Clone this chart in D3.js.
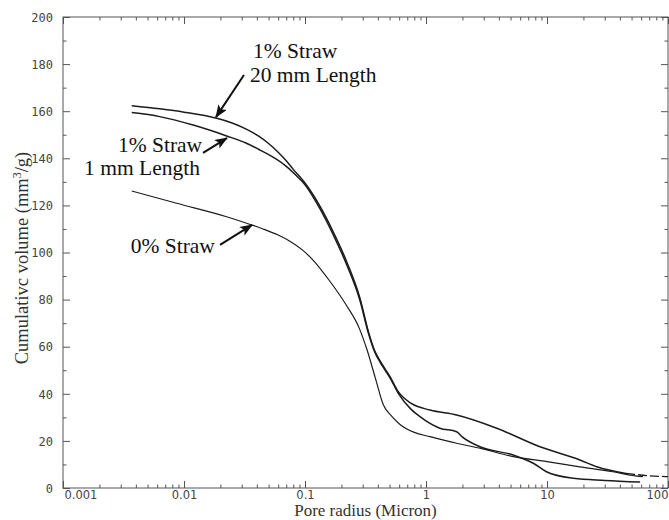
<!DOCTYPE html>
<html>
<head>
<meta charset="utf-8">
<script src="https://cdn.jsdelivr.net/npm/d3@7"></script>
<style>
  html, body { margin: 0; padding: 0; background: #fff; }
  svg { display: block; }
  .frame { fill: none; stroke: #555; stroke-width: 1; }
  .axis path { display: none; }
  .axis line { stroke: #555; stroke-width: 1; }
  .curve { fill: none; stroke: #1c1c1c; stroke-linejoin: round; }
  .note { font-family: 'Liberation Serif', serif; font-size: 21.5px; fill: #111; }
  .title { font-family: 'Liberation Serif', serif; fill: #333; }
</style>
</head>
<body>
<svg id="chart" width="669" height="520"></svg>
<script>
// pore radius (micron) vs cumulative volume (mm3/g)
const straw20X = [0.0037, 0.0063, 0.01, 0.0186, 0.025, 0.033, 0.042, 0.05, 0.06, 0.07, 0.08, 0.1, 0.13, 0.171, 0.221, 0.285, 0.334, 0.375, 0.417, 0.46, 0.504, 0.59, 0.75, 1.08, 1.79, 3.84, 8.75, 18.7, 25.8, 45, 70, 100];
const straw20Y = [162.3, 161.0, 159.6, 157.0, 155.0, 152.3, 149.2, 146.3, 142.6, 139.0, 135.3, 129.5, 120.5, 108.8, 96.1, 80.5, 66.4, 58.5, 54.0, 50.5, 47.3, 40.9, 36.0, 33.1, 31.0, 25.4, 17.5, 11.9, 9.0, 6.2, 5.2, 4.8];

const straw1X = [0.0037, 0.0063, 0.0119, 0.0225, 0.0325, 0.0425, 0.058, 0.07, 0.085, 0.1, 0.13, 0.171, 0.221, 0.285, 0.334, 0.375, 0.417, 0.46, 0.504, 0.59, 0.75, 0.891, 1.3, 1.79, 1.98, 2.79, 5.27, 7.7, 9.9, 16.6, 30, 58.8];
const straw1Y = [159.4, 157.7, 154.1, 149.5, 146.5, 143.5, 139.6, 136.6, 132.6, 128.8, 119.5, 107.6, 94.8, 79.5, 65.8, 58.0, 53.5, 50.0, 46.8, 40.2, 33.5, 30.3, 25.4, 23.9, 21.8, 17.5, 14.0, 10.5, 6.9, 4.1, 3.2, 2.5];

const straw0X = [0.0037, 0.0087, 0.0225, 0.0363, 0.045, 0.06, 0.075, 0.095, 0.115, 0.16, 0.221, 0.28, 0.324, 0.38, 0.443, 0.52, 0.61, 0.8, 1.08, 1.79, 2.79, 5.27, 10, 18.7, 35, 48.5, 62];
const straw0Y = [126.1, 120.9, 115.2, 111.7, 110.0, 107.4, 104.8, 101.1, 97.1, 87.9, 77.4, 68.0, 59.0, 47.0, 35.5, 30.5, 27.0, 23.6, 21.8, 19.0, 16.9, 13.3, 11.2, 9.0, 6.9, 5.5, 4.8];

const xMajor = [0.001, 0.01, 0.1, 1, 10, 100];
const xLabels = ['0.001', '0.01', '0.1', '1', '10', '100'];
const yMajor = [0, 20, 40, 60, 80, 100, 120, 140, 160, 180, 200];
const yMinor = [10, 30, 50, 70, 90, 110, 130, 150, 170, 190];

// annotation texts and arrows, in data coordinates
const noteTexts = [
  { text: '1% Straw', x: 0.0372, y: 182.6, anchor: 'start' },
  { text: '20 mm Length', x: 0.0351, y: 172.6, anchor: 'start' },
  { text: '1% Straw', x: 0.01412, y: 142.8, anchor: 'end' },
  { text: '1 mm Length', x: 0.01355, y: 133.0, anchor: 'end' },
  { text: '0% Straw', x: 0.018, y: 99.9, anchor: 'end' }
];
const noteArrows = [
  { from: [0.0313, 175.4], to: [0.01837, 157.5] },
  { from: [0.01435, 142.3], to: [0.02265, 148.6] },
  { from: [0.01984, 103.2], to: [0.0365, 111.7] }
];

const svg = d3.select('#chart');
const padLeft = 63, padRight = 668, padTop = 17, padBottom = 488;

const x = d3.scaleLog().domain([0.001, 100]).range([padLeft, padRight]);
const y = d3.scaleLinear().domain([0, 200]).range([padBottom, padTop]);

const xMinor = [];
xMajor.slice(0, -1).forEach((d) => {
  for (let k = 2; k <= 9; k++) xMinor.push(d * k);
});

// ticks on all four sides, pointing inward
svg.append('g').attr('class', 'axis').attr('transform', `translate(0,${padBottom})`)
  .call(d3.axisBottom(x).tickValues(xMinor).tickSizeInner(-3.5).tickSizeOuter(0).tickFormat(''));
const xAxis = svg.append('g').attr('class', 'axis').attr('transform', `translate(0,${padBottom})`)
  .call(d3.axisBottom(x).tickValues(xMajor).tickSizeInner(-7).tickSizeOuter(0).tickFormat((d, i) => xLabels[i]));
xAxis.selectAll('text')
  .attr('y', 11).attr('dy', 0)
  .attr('font-family', "'DejaVu Sans', sans-serif").attr('font-size', 11.5).attr('fill', '#444')
  .attr('text-anchor', (d, i) => (i === 0 ? 'start' : i === xMajor.length - 1 ? 'end' : 'middle'))
  .attr('x', (d, i) => (i === 0 ? 1 : 0));

svg.append('g').attr('class', 'axis').attr('transform', `translate(0,${padTop})`)
  .call(d3.axisTop(x).tickValues(xMinor).tickSizeInner(-3.5).tickSizeOuter(0).tickFormat(''));
svg.append('g').attr('class', 'axis').attr('transform', `translate(0,${padTop})`)
  .call(d3.axisTop(x).tickValues(xMajor).tickSizeInner(-7).tickSizeOuter(0).tickFormat(''));

svg.append('g').attr('class', 'axis').attr('transform', `translate(${padLeft},0)`)
  .call(d3.axisLeft(y).tickValues(yMinor).tickSizeInner(-3.5).tickSizeOuter(0).tickFormat(''));
const yAxis = svg.append('g').attr('class', 'axis').attr('transform', `translate(${padLeft},0)`)
  .call(d3.axisLeft(y).tickValues(yMajor).tickSizeInner(-7).tickSizeOuter(0));
yAxis.selectAll('text')
  .attr('x', -10).attr('dy', '0.35em')
  .attr('font-family', "'DejaVu Sans Mono', monospace").attr('font-size', 12).attr('fill', '#444');

svg.append('g').attr('class', 'axis').attr('transform', `translate(${padRight},0)`)
  .call(d3.axisRight(y).tickValues(yMinor).tickSizeInner(-3.5).tickSizeOuter(0).tickFormat(''));
svg.append('g').attr('class', 'axis').attr('transform', `translate(${padRight},0)`)
  .call(d3.axisRight(y).tickValues(yMajor).tickSizeInner(-7).tickSizeOuter(0).tickFormat(''));

svg.append('rect').attr('class', 'frame')
  .attr('x', padLeft).attr('y', padTop).attr('width', padRight - padLeft).attr('height', padBottom - padTop);

// curves; the 20 mm curve fades into a broken trace past ~45 micron
const line = d3.line().x((d) => x(d[0])).y((d) => y(d[1])).curve(d3.curveMonotoneX);
const series = [
  { xs: straw20X, ys: straw20Y, width: 1.5 },
  { xs: straw1X, ys: straw1Y, width: 1.5 },
  { xs: straw0X, ys: straw0Y, width: 1.2 }
];
series.forEach((s) => {
  const pts = d3.zip(s.xs, s.ys);
  const solid = s.xs === straw20X ? pts.filter((p) => p[0] <= 45) : pts;
  svg.append('path').attr('class', 'curve').attr('stroke-width', s.width).attr('d', line(solid));
  if (s.xs === straw20X) {
    svg.append('path').attr('class', 'curve').attr('stroke-width', 1.3)
      .attr('stroke-dasharray', '9,3').attr('d', line(pts.filter((p) => p[0] >= 45)));
  }
});

// titles
svg.append('text').attr('class', 'title').attr('font-size', 17)
  .attr('x', (padLeft + padRight) / 2).attr('y', 516).attr('text-anchor', 'middle')
  .text('Pore radius (Micron)');
const yTitle = svg.append('text').attr('class', 'title').attr('font-size', 18.5)
  .attr('transform', `translate(28,258) rotate(-90)`).attr('text-anchor', 'middle');
yTitle.append('tspan').text('Cumulativc volume (mm');
yTitle.append('tspan').attr('dy', -7).attr('font-size', 12).text('3');
yTitle.append('tspan').attr('dy', 7).text('/g)');

// annotations
svg.append('defs').append('marker')
  .attr('id', 'head').attr('viewBox', '0 0 13 10').attr('refX', 12).attr('refY', 5)
  .attr('markerWidth', 13).attr('markerHeight', 10).attr('markerUnits', 'userSpaceOnUse').attr('orient', 'auto')
  .append('path').attr('d', 'M0,0 L13,5 L0,10 L3,5 Z').attr('fill', '#111');

svg.append('g').selectAll('line').data(noteArrows).join('line')
  .attr('x1', (d) => x(d.from[0])).attr('y1', (d) => y(d.from[1]))
  .attr('x2', (d) => x(d.to[0])).attr('y2', (d) => y(d.to[1]))
  .attr('stroke', '#111').attr('stroke-width', 2).attr('marker-end', 'url(#head)');

svg.append('g').selectAll('text').data(noteTexts).join('text')
  .attr('class', 'note')
  .attr('x', (d) => x(d.x)).attr('y', (d) => y(d.y))
  .attr('text-anchor', (d) => d.anchor)
  .text((d) => d.text);
</script>
</body>
</html>
